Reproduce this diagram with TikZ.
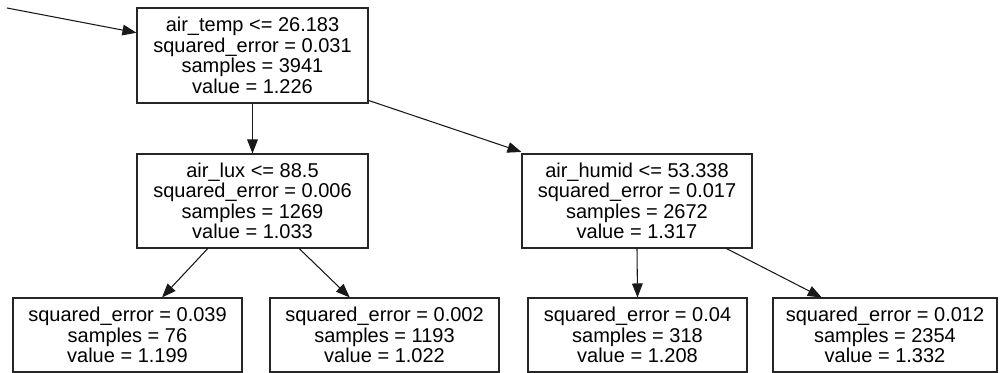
\documentclass[tikz,border=0pt]{standalone}
\usepackage{fontspec}
\setmainfont{Liberation Sans}
\usetikzlibrary{arrows.meta,calc}
\begin{document}
\begin{tikzpicture}[x=0.75pt,y=-0.75pt,
  treebox/.style={draw=black!85,line width=0.8pt,inner sep=0pt,align=center,
    font=\fontsize{15}{15.4}\selectfont},
  edge/.style={draw=black!90,line width=0.8pt,-{Triangle[length=10.5pt,width=8pt]}}]
\useasboundingbox (0,0) rectangle (1000,373);
\node[treebox,minimum width=173.25pt,minimum height=71.25pt] (root) at (252.5,55.5)
  {air\_temp <= 26.183\\squared\_error = 0.031\\samples = 3941\\value = 1.226};
\node[treebox,minimum width=173.25pt,minimum height=70.5pt] (lm) at (252.5,201)
  {air\_lux <= 88.5\\squared\_error = 0.006\\samples = 1269\\value = 1.033};
\node[treebox,minimum width=172.5pt,minimum height=70.5pt] (rm) at (637,201)
  {air\_humid <= 53.338\\squared\_error = 0.017\\samples = 2672\\value = 1.317};
\node[treebox,minimum width=171.75pt,minimum height=55.5pt] (l1) at (127.5,335)
  {squared\_error = 0.039\\samples = 76\\value = 1.199};
\node[treebox,minimum width=171.75pt,minimum height=55.5pt] (l2) at (384.5,335)
  {squared\_error = 0.002\\samples = 1193\\value = 1.022};
\node[treebox,minimum width=164.25pt,minimum height=55.5pt] (l3) at (637.5,335)
  {squared\_error = 0.04\\samples = 318\\value = 1.208};
\node[treebox,minimum width=168pt,minimum height=55.5pt] (l4) at (885,335)
  {squared\_error = 0.012\\samples = 2354\\value = 1.332};
\coordinate (start) at (7,8);
\draw[edge] (start) -- ($(root.north west)!0.263!(root.south west)$);
\draw[edge] (root.south) -- (lm.north);
\draw[edge] ($(root.north east)!0.968!(root.south east)$) -- ($(rm.north west)+(0,-1.5)$);
\draw[edge] ($(lm.south west)!0.307!(lm.south east)$) -- ($(l1.north west)!0.65!(l1.north east)$);
\draw[edge] ($(lm.south west)!0.701!(lm.south east)$) -- ($(l2.north west)!0.349!(l2.north east)$);
\draw[edge] (rm.south) -- (l3.north);
\draw[edge] ($(rm.south west)!0.887!(rm.south east)$) -- ($(l4.north west)!0.219!(l4.north east)$);
\end{tikzpicture}
\end{document}
